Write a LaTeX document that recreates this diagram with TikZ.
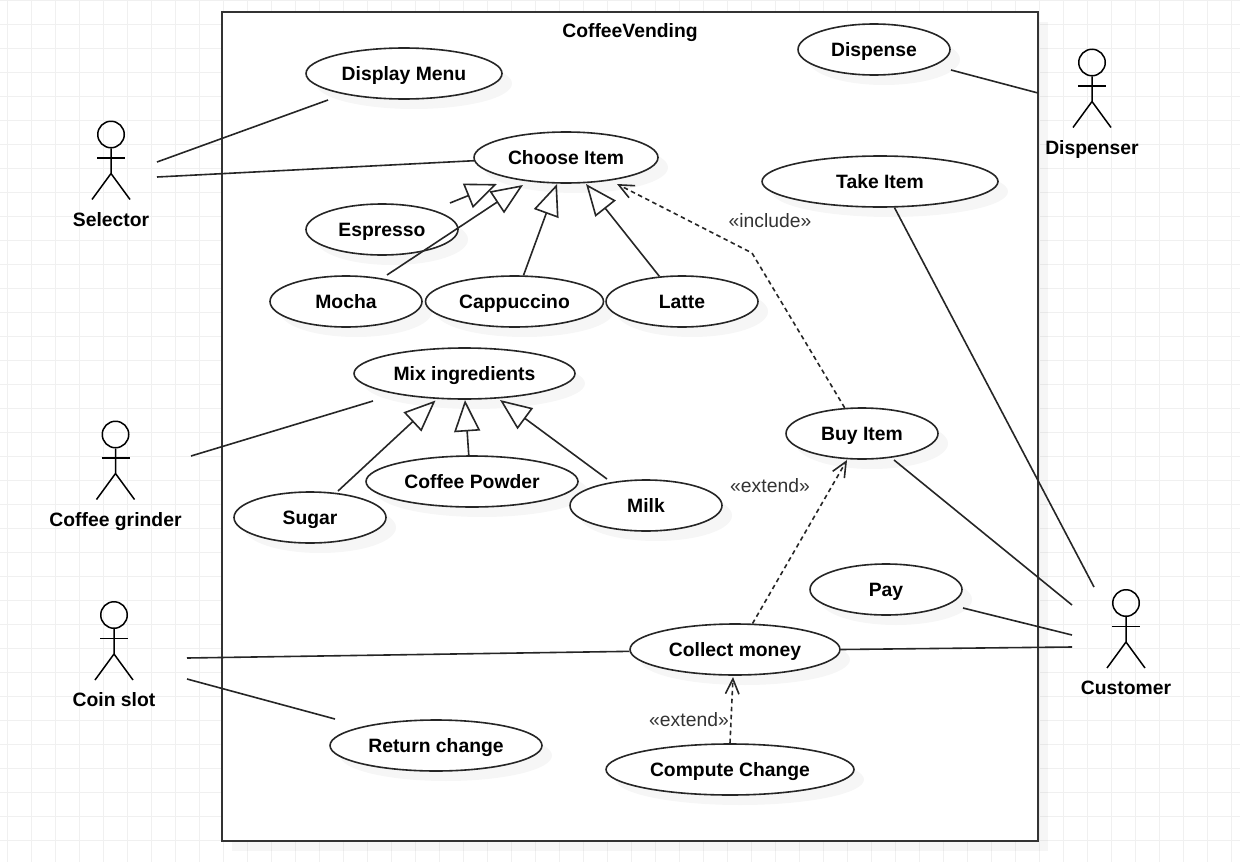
\documentclass[tikz,border=0pt]{standalone}
\usepackage{fontspec}
\setmainfont{Liberation Sans}
\usetikzlibrary{arrows.meta,shapes.geometric,shadows}

\newcommand{\actor}[4]{%
  \node[head] (#1) at (#2,#3) {};
  \draw[stick] (#1.south) -- ++(0,25) -- ++(-19,26) ++(19,-26) -- ++(19,26);
  \draw[stick] (#1.south) ++(-14,9.5) -- ++(28,0);
  \node[actorlabel,yshift=-1.7cm] (#1Label) at (#2,#3) {#4};
}

\begin{document}
\begin{tikzpicture}
    [x=0.02cm,y=-0.02cm,%
    every node/.style={font=\fontsize{11}{13}\selectfont\bfseries,inner sep=0pt,
      text depth=0pt},%
    gridline/.style={draw=black!6,line width=0.02cm},
    softshadow/.style={drop shadow={opacity=0.07,shadow xshift=0.2cm,
        shadow yshift=-0.2cm}},
    usecase/.style={ellipse,draw=black!85,fill=white,line width=0.032cm,
      minimum height=1.02cm,softshadow},
    head/.style={circle,draw=black,line width=0.03cm,minimum size=0.53cm},
    stick/.style={black,line width=0.03cm},
    actorlabel/.style={text=black},
    stereo/.style={font=\fontsize{11}{13}\selectfont,text=black!80},
    link/.style={black!85,line width=0.032cm},
    inherit/.style={link,-{Triangle[open,length=0.63cm,width=0.52cm]}},
    depend/.style={link,dash pattern=on 0.09cm off 0.07cm,
      -{Straight Barb[length=0.3cm,width=0.27cm]}}]
    \useasboundingbox (0,0) rectangle (1240,862);

    % grid of the page
    \foreach \x in {7,31,...,1231} {\draw[gridline] (\x,0) -- (\x,862);}
    \foreach \y in {0,24,...,860} {\draw[gridline] (0,\y) -- (1240,\y);}

    \node[rectangle,draw=black!80,fill=white,line width=0.04cm,
    minimum width=16.32cm,minimum height=16.58cm,softshadow] (system)
    at (630,426.5) {};
    \node (systemTitle) at (630,30) {CoffeeVending};

    \node[usecase,minimum width=3.92cm] (display) at (404,73.5) {Display Menu};
    \node[usecase,minimum width=3.04cm] (dispense) at (874,49.5) {Dispense};
    \node[usecase,minimum width=3.68cm] (choose) at (566,157.5) {Choose Item};
    \node[usecase,minimum width=4.72cm] (take) at (880,181.5) {Take Item};
    \node[usecase,minimum width=3.04cm] (espresso) at (382,229.5) {Espresso};
    \node[usecase,minimum width=3.04cm] (mocha) at (346,301.5) {Mocha};
    \node[usecase,minimum width=3.56cm] (cappuccino) at (514.5,301.5) {Cappuccino};
    \node[usecase,minimum width=3.04cm] (latte) at (682,301.5) {Latte};
    \node[usecase,minimum width=4.42cm] (mix) at (464.5,373.5) {Mix ingredients};
    \node[usecase,minimum width=3.04cm] (buy) at (862,433.5) {Buy Item};
    \node[usecase,minimum width=4.24cm] (powder) at (472,481.5) {Coffee Powder};
    \node[usecase,minimum width=3.04cm] (milk) at (646,505.5) {Milk};
    \node[usecase,minimum width=3.04cm] (sugar) at (310,517.5) {Sugar};
    \node[usecase,minimum width=3.04cm] (pay) at (886,589.5) {Pay};
    \node[usecase,minimum width=4.2cm] (collect) at (735,649.5) {Collect money};
    \node[usecase,minimum width=4.24cm] (return) at (436,745.5) {Return change};
    \node[usecase,minimum width=4.96cm] (compute) at (730,769.5) {Compute Change};

    \actor{selector}{111}{134.5}{Selector}
    \actor{dispenser}{1092}{62.5}{Dispenser}
    \actor{grinder}{115.5}{434.5}{Coffee grinder}
    \actor{coinslot}{114}{615}{Coin slot}
    \actor{customer}{1126}{603}{Customer}

    \node[stereo] (includeLabel) at (770,220) {«include»};
    \node[stereo] (extendBuyLabel) at (770,485) {«extend»};
    \node[stereo] (extendCollectLabel) at (689,719) {«extend»};

    % free ends of the connectors
    \coordinate (selectorA) at (157,162);
    \coordinate (selectorB) at (157,177);
    \coordinate (displayEnd) at (328,100);
    \coordinate (dispenseEnd) at (951,70);
    \coordinate (dispenserEnd) at (1038,93);
    \coordinate (grinderEnd) at (191,456);
    \coordinate (mixEnd) at (373,401);
    \coordinate (coinA) at (187,658);
    \coordinate (coinB) at (187,679);
    \coordinate (returnEnd) at (335,719);
    \coordinate (customerA) at (1094,587);
    \coordinate (customerB) at (1072,605);
    \coordinate (customerC) at (1072,635);
    \coordinate (customerD) at (1072,647);
    \coordinate (payEnd) at (963,608);
    \coordinate (buyEnd) at (894,460);
    \coordinate (bend) at (752,253);

    \coordinate (espressoEnd) at (450,203);
    \coordinate (mochaEnd) at (387,275);
    \coordinate (tipEspresso) at (497,184);
    \coordinate (tipMocha) at (523,185);
    \coordinate (tipCappuccino) at (557,184);
    \coordinate (tipLatte) at (586,184);
    \coordinate (tipSugar) at (435.5,400.5);
    \coordinate (tipPowder) at (465,400);
    \coordinate (tipMilk) at (500,400);
    \coordinate (sugarEnd) at (338,491);
    \coordinate (milkEnd) at (607,479);
    \coordinate (tipInclude) at (617,184);
    \coordinate (tipExtendBuy) at (847,460);
    \coordinate (tipExtendCollect) at (733,677);

    \draw[link] (selectorA) -- (displayEnd);
    \draw[link] (selectorB) -- (choose.182.8);
    \draw[link] (dispenseEnd) -- (dispenserEnd);
    \draw[link] (grinderEnd) -- (mixEnd);
    \draw[link] (coinA) -- (collect.181.4);
    \draw[link] (coinB) -- (returnEnd);
    \draw[link] (collect.east) -- (customerD);
    \draw[link] (payEnd) -- (customerC);
    \draw[link] (buyEnd) -- (customerB);
    \draw[link] (take.-61) -- (customerA);

    \draw[inherit] (espressoEnd) -- (tipEspresso);
    \draw[inherit] (mochaEnd) -- (tipMocha);
    \draw[inherit] (cappuccino.71.5) -- (tipCappuccino);
    \draw[inherit] (latte.132) -- (tipLatte);
    \draw[inherit] (sugarEnd) -- (tipSugar);
    \draw[inherit] (powder.97) -- (tipPowder);
    \draw[inherit] (milkEnd) -- (tipMilk);

    \draw[depend] (buy.124) -- (bend) -- (tipInclude);
    \draw[depend] (collect.56) -- (tipExtendBuy);
    \draw[depend] (compute.north) -- (tipExtendCollect);
  \end{tikzpicture}
\end{document}
